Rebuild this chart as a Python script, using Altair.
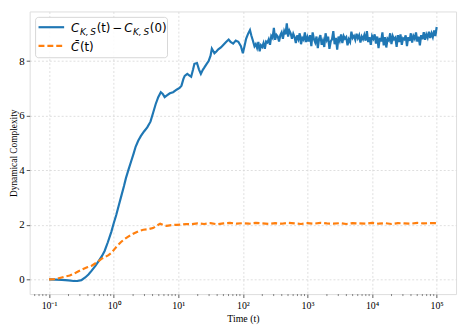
import altair as alt
import pandas as pd
import numpy as np

# ---------------- data ----------------
# blue curve: C_{K,S}(t) - C_{K,S}(0); time given as log10(t)
blue_log_t = [-1.00, -0.90, -0.80, -0.70, -0.62, -0.56, -0.50, -0.44, -0.39, -0.34,
              -0.28, -0.23, -0.18, -0.14, -0.09, -0.035, 0.00, 0.04, 0.08, 0.12,
              0.16, 0.19, 0.23, 0.27, 0.31, 0.34, 0.38, 0.42, 0.47, 0.52,
              0.57, 0.61, 0.65, 0.69, 0.73, 0.76, 0.79, 0.83, 0.87, 0.92,
              0.98, 1.02, 1.05, 1.08, 1.10, 1.14, 1.17, 1.20, 1.23, 1.25,
              1.29, 1.32, 1.35, 1.38, 1.40, 1.44, 1.47, 1.50, 1.52, 1.56,
              1.59, 1.62, 1.66, 1.70, 1.74, 1.78, 1.81, 1.85, 1.89, 1.93,
              1.97, 2.00, 2.03, 2.05, 2.08, 2.11, 2.13, 2.15, 2.18]
blue_vals = [0.00, -0.01, -0.02, -0.04, -0.06, -0.06, -0.03, 0.07, 0.18, 0.32,
             0.50, 0.68, 0.86, 1.04, 1.36, 1.75, 2.05, 2.36, 2.72, 3.07,
             3.42, 3.71, 4.02, 4.32, 4.62, 4.86, 5.08, 5.25, 5.42, 5.57,
             5.78, 6.10, 6.42, 6.68, 6.86, 6.80, 6.68, 6.75, 6.82, 6.86,
             6.96, 7.02, 7.10, 7.35, 7.46, 7.53, 7.48, 7.43, 7.70, 7.90,
             7.93, 7.70, 7.53, 7.68, 7.75, 7.90, 8.00, 8.20, 8.46, 8.29,
             8.35, 8.43, 8.50, 8.60, 8.70, 8.79, 8.70, 8.64, 8.75, 8.71,
             8.55, 8.29, 8.60, 8.82, 9.00, 9.14, 8.95, 8.79, 8.54]
# noisy plateau of the blue curve: (log10 t, value)
blue_plateau = [
    (2.20, 8.62), (2.22, 8.48), (2.24, 8.70), (2.26, 8.36), (2.28, 8.58), (2.30, 8.52),
    (2.32, 8.66), (2.34, 8.45), (2.36, 8.72), (2.38, 8.68), (2.40, 8.80), (2.42, 8.60),
    (2.44, 8.92), (2.46, 8.85), (2.48, 9.22), (2.50, 8.78), (2.52, 8.96), (2.54, 8.90),
    (2.56, 8.72), (2.58, 8.95), (2.60, 9.05), (2.62, 8.82), (2.64, 9.10), (2.66, 8.98),
    (2.68, 9.38), (2.70, 8.90), (2.72, 9.12), (2.74, 9.02), (2.76, 8.82), (2.78, 9.00),
    (2.80, 8.88), (2.82, 8.66), (2.84, 8.94), (2.86, 8.80), (2.88, 9.02), (2.90, 8.62),
    (2.92, 8.85), (2.94, 8.78), (2.96, 9.05), (2.98, 8.70), (3.00, 8.88), (3.02, 8.72),
    (3.04, 8.95), (3.06, 8.55), (3.08, 9.05), (3.10, 8.80), (3.12, 8.68), (3.14, 8.90),
    (3.16, 8.48), (3.18, 8.82), (3.20, 8.95), (3.22, 8.60), (3.24, 8.75), (3.26, 8.52),
    (3.28, 9.02), (3.30, 8.78), (3.32, 8.90), (3.34, 8.45), (3.36, 8.72), (3.38, 8.80),
    (3.40, 9.10), (3.42, 8.62), (3.44, 8.85), (3.46, 8.42), (3.48, 8.90), (3.50, 8.75),
    (3.52, 8.98), (3.54, 8.66), (3.56, 8.92), (3.58, 8.82), (3.60, 8.88), (3.62, 8.58),
    (3.64, 8.80), (3.66, 8.70), (3.68, 9.08), (3.70, 8.85), (3.72, 8.92), (3.74, 8.78),
    (3.76, 9.00), (3.78, 8.84), (3.80, 8.95), (3.82, 8.68), (3.84, 8.90), (3.86, 8.80),
    (3.88, 8.96), (3.90, 8.75), (3.92, 9.10), (3.94, 8.70), (3.96, 8.88), (3.98, 8.60),
    (4.00, 8.92), (4.02, 8.82), (4.04, 8.98), (4.06, 8.64), (4.08, 8.90), (4.10, 8.48),
    (4.12, 8.85), (4.14, 8.72), (4.16, 9.05), (4.18, 8.58), (4.20, 8.88), (4.22, 8.50),
    (4.24, 8.82), (4.26, 8.76), (4.28, 9.02), (4.30, 8.62), (4.32, 8.92), (4.34, 8.80),
    (4.36, 8.86), (4.38, 8.52), (4.40, 8.95), (4.42, 8.70), (4.44, 8.98), (4.46, 8.60),
    (4.48, 8.84), (4.50, 8.80), (4.52, 8.94), (4.54, 8.55), (4.56, 8.88), (4.58, 8.74),
    (4.60, 9.02), (4.62, 8.68), (4.64, 8.92), (4.66, 8.82), (4.68, 9.05), (4.70, 8.72),
    (4.72, 8.90), (4.74, 8.58), (4.76, 8.95), (4.78, 8.80), (4.80, 9.06), (4.82, 8.78),
    (4.84, 8.98), (4.86, 8.86), (4.88, 9.08), (4.90, 8.85), (4.92, 9.02), (4.94, 8.88),
    (4.96, 9.12), (4.98, 8.92), (5.00, 9.25),
]

# orange curve: C-bar(t)
orange_log_t = [-1.00, -0.92, -0.85, -0.77, -0.68, -0.58, -0.49, -0.41, -0.34, -0.26,
                -0.19, -0.13, -0.08, -0.03, 0.01, 0.06, 0.11, 0.16, 0.22, 0.31,
                0.38, 0.46, 0.54, 0.61, 0.67, 0.72, 0.77, 0.82, 0.90, 0.98,
                1.05, 1.12, 1.20, 1.30, 1.40, 1.50, 1.60, 1.70, 1.80, 1.90,
                2.00, 2.10, 2.20, 2.30, 2.40, 2.50, 2.60, 2.70, 2.80, 2.90,
                3.00, 3.10, 3.20, 3.30, 3.40, 3.50, 3.60, 3.70, 3.80, 3.90,
                4.00, 4.10, 4.20, 4.30, 4.40, 4.50, 4.60, 4.70, 4.80, 4.90, 5.00]
orange_vals = [0.00, 0.01, 0.04, 0.09, 0.14, 0.25, 0.36, 0.44, 0.50, 0.62,
               0.75, 0.82, 0.89, 0.98, 1.10, 1.24, 1.36, 1.46, 1.56, 1.68,
               1.76, 1.82, 1.84, 1.88, 1.97, 2.04, 1.99, 1.96, 1.99, 2.00,
               2.01, 2.03, 2.02, 2.05, 2.03, 2.06, 2.02, 2.05, 2.07, 2.04,
               2.06, 2.04, 2.07, 2.05, 2.03, 2.06, 2.04, 2.07, 2.05, 2.03,
               2.06, 2.04, 2.07, 2.05, 2.04, 2.06, 2.03, 2.06, 2.05, 2.04,
               2.07, 2.04, 2.06, 2.03, 2.06, 2.05, 2.04, 2.07, 2.05, 2.06, 2.06]

x_tick_exps = [-1, 0, 1, 2, 3, 4, 5]
x_tick_labels = ["10\u207b\u00b9", "10\u2070", "10\u00b9", "10\u00b2", "10\u00b3", "10\u2074", "10\u2075"]
y_ticks = [0, 2, 4, 6, 8]

# ---------------- frames ----------------
blue_t = [10 ** e for e in blue_log_t] + [10 ** e for e, _ in blue_plateau]
blue_v = blue_vals + [v for _, v in blue_plateau]
df_blue = pd.DataFrame({"t": blue_t, "v": blue_v})
df_orange = pd.DataFrame({"t": [10 ** e for e in orange_log_t], "v": orange_vals})

x_min, x_max = 10 ** -1.30, 10 ** 5.30
minor = [m * 10.0 ** k for k in range(-2, 6) for m in range(2, 10)]
minor = [m for m in minor if x_min <= m <= x_max]
df_minor = pd.DataFrame({"t": minor})

W, H = 433, 287
SERIF = "Liberation Serif"

xscale = alt.Scale(type="log", domain=[x_min, x_max], nice=False)
yscale = alt.Scale(domain=[-0.54, 9.82], nice=False, zero=False)

label_arr = "[" + ",".join("'" + s + "'" for s in x_tick_labels) + "]"

x_axis = alt.Axis(
    values=[10.0 ** e for e in x_tick_exps],
    labelExpr=label_arr + "[round(log(datum.value)/LN10)+1]",
    title="Time (t)", titleFont=SERIF, titleFontSize=10, titleFontWeight="normal",
    titleColor="#000", titlePadding=3,
    labelFont=SERIF, labelFontSize=10, labelColor="#000", labelPadding=3,
    tickSize=3.5, tickColor="#333", tickWidth=0.8,
    grid=True, gridColor="#d6d6d6", gridDash=[2, 2], gridWidth=0.8,
    domain=False, labelFlush=False,
)
y_axis = alt.Axis(
    values=y_ticks, title="Dynamical Complexity",
    titleFont=SERIF, titleFontSize=9.5, titleFontWeight="normal", titleColor="#000",
    titleX=-21, titleBaseline="top", titleAngle=270,
    labelFont=SERIF, labelFontSize=11, labelColor="#000", labelPadding=2,
    tickSize=3.5, tickColor="#333", tickWidth=0.8,
    grid=True, gridColor="#d6d6d6", gridDash=[2, 2], gridWidth=0.8,
    domain=False,
)

blue = alt.Chart(df_blue).mark_line(color="#1f77b4", strokeWidth=2.2).encode(
    x=alt.X("t:Q", scale=xscale, axis=x_axis),
    y=alt.Y("v:Q", scale=yscale, axis=y_axis),
    order="t:Q",
)
orange = alt.Chart(df_orange).mark_line(color="#ff7f0e", strokeWidth=2.2, strokeDash=[6, 3]).encode(
    x=alt.X("t:Q", scale=xscale),
    y=alt.Y("v:Q", scale=yscale),
    order="t:Q",
)
minor_ticks = alt.Chart(df_minor).mark_rule(color="#333", strokeWidth=0.6).encode(
    x=alt.X("t:Q", scale=xscale),
    y=alt.value(H),
    y2=alt.value(H + 2),
)

# ---------------- legend (built by hand for the subscripted labels) ----------------
legend_box = alt.Chart(pd.DataFrame({"a": [0]})).mark_rect(
    fill="white", fillOpacity=0.85, stroke="#cccccc", strokeWidth=0.8, cornerRadius=3
).encode(x=alt.value(6), x2=alt.value(140), y=alt.value(6), y2=alt.value(47))

leg_blue = alt.Chart(pd.DataFrame({"a": [0]})).mark_rule(color="#1f77b4", strokeWidth=2.2).encode(
    x=alt.value(9), x2=alt.value(35), y=alt.value(16)
)
leg_orange = alt.Chart(pd.DataFrame({"a": [0]})).mark_rule(
    color="#ff7f0e", strokeWidth=2.2, strokeDash=[6, 3]
).encode(x=alt.value(9), x2=alt.value(35), y=alt.value(35))

LEGF = "DejaVu Sans"
big_italic = pd.DataFrame({
    "px": [42, 96, 42],
    "py": [20.5, 20.5, 40],
    "s": ["C", "C", "C\u0304"],
})
small_italic = pd.DataFrame({
    "px": [51, 105],
    "py": [24, 24],
    "s": ["K,\u2009S", "K,\u2009S"],
})
normal_txt = pd.DataFrame({
    "px": [68, 84, 122, 51],
    "py": [20.5, 20.5, 20.5, 40],
    "s": ["(t)", "\u2212", "(0)", "(t)"],
})

def txt(df, size, style):
    return alt.Chart(df).mark_text(
        font=LEGF, fontSize=size, fontStyle=style, align="left", baseline="alphabetic", color="#000"
    ).encode(
        x=alt.X("px:Q", scale=None), y=alt.Y("py:Q", scale=None), text="s:N"
    )

legend = legend_box + leg_blue + leg_orange + txt(big_italic, 12, "italic") + \
    txt(small_italic, 9, "italic") + txt(normal_txt, 12, "normal")

chart = alt.layer(blue, orange, minor_ticks, legend).properties(
    width=W, height=H,
    autosize=alt.AutoSizeParams(type="none"),
    padding={"left": 22, "top": 1, "right": 4, "bottom": 37},
).configure_view(stroke="#777", strokeWidth=1.4).configure(background="white")

chart.save("out.html", embed_options={"renderer": "svg", "actions": False})
